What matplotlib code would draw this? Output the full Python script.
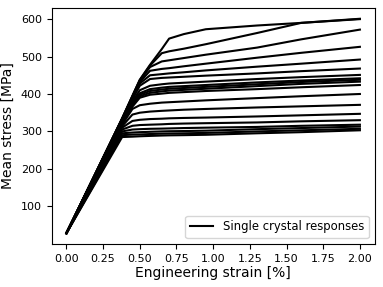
import numpy as np
import matplotlib
matplotlib.use("Agg")
import matplotlib.pyplot as plt

# strain sample points [%], shared by all crystals
strain = [0.0, 0.38, 0.45, 0.5, 0.57, 0.65, 0.7, 0.8, 0.95, 1.3, 1.6, 2.0]

# mean stress [MPa] of each single crystal at the strain points above
stress = [
    [28, 335, 395, 438, 478, 520, 548, 560, 573, 583, 590, 600],
    [28, 335, 395, 437, 476, 509, 514, 521, 533, 563, 590, 601],
    [28, 334, 393, 435, 472, 487, 490, 496, 505, 524, 546, 572],
    [28, 333, 391, 432, 462, 467, 469, 474, 481, 497, 510, 526],
    [28, 332, 390, 428, 450, 453, 455, 458, 463, 473, 481, 492],
    [28, 330, 385, 422, 440, 443, 444, 446, 449, 455, 461, 468],
    [28, 328, 380, 410, 422, 426, 428, 430, 433, 440, 445, 451],
    [28, 326, 376, 402, 413, 417, 419, 421, 424, 431, 436, 442],
    [28, 325, 373, 398, 408, 412, 414, 416, 419, 426, 432, 438],
    [28, 324, 370, 394, 403, 407, 409, 411, 414, 421, 427, 433],
    [28, 322, 366, 390, 398, 401, 403, 405, 408, 413, 418, 424],
    [28, 318, 360, 370, 374, 377, 378, 380, 383, 389, 394, 400],
    [28, 314, 345, 350, 353, 355, 356, 358, 360, 364, 367, 371],
    [28, 310, 328, 331, 333, 334, 335, 336, 337, 340, 343, 347],
    [28, 305, 315, 317, 318, 319, 320, 321, 322, 324, 327, 330],
    [28, 300, 305, 306, 307, 307.5, 308, 309, 310, 312, 315, 318],
    [28, 295, 297, 298, 299, 300, 300.5, 301, 302, 306, 309, 313],
    [28, 290, 291.5, 292, 293, 294, 294.5, 295, 296, 300, 303, 307],
    [28, 285, 286, 287, 288, 289, 289.5, 290, 291, 295, 298, 303],
]

fig = plt.figure(figsize=(3.83, 2.87), dpi=100)
ax = fig.add_axes([0.135, 0.15, 0.843, 0.822])

for i, s in enumerate(stress):
    label = "Single crystal responses" if i == 0 else None
    ax.plot(strain, s, color="k", lw=1.5, label=label)

ax.set_xticks([0.0, 0.25, 0.5, 0.75, 1.0, 1.25, 1.5, 1.75, 2.0])
ax.set_yticks([100, 200, 300, 400, 500, 600])
ax.tick_params(labelsize=8)
ax.set_xlabel("Engineering strain [%]", fontsize=10, labelpad=2)
ax.set_ylabel("Mean stress [MPa]", fontsize=10, labelpad=4)
ax.legend(loc="lower right", fontsize=8.4)

fig.savefig("out.png", dpi=100)
